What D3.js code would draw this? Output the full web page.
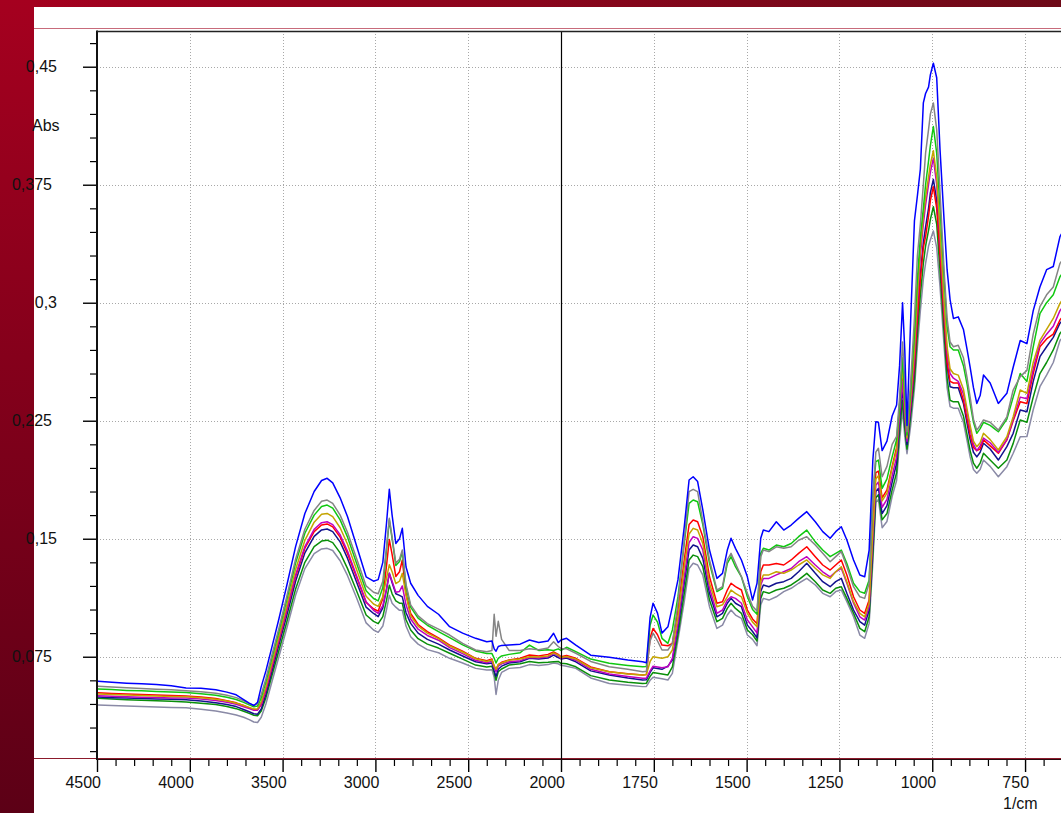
<!DOCTYPE html>
<html>
<head>
<meta charset="utf-8">
<script src="https://cdn.jsdelivr.net/npm/d3@7"></script>
<style>
  html, body { margin: 0; padding: 0; background: #fff; }
  svg { display: block; font-family: "Liberation Sans", Arial, Helvetica, sans-serif; }
</style>
</head>
<body>
<svg id="chart" width="1061" height="813"></svg>
<script>
// ---- Wavenumber grid (1/cm), shared by all spectra ----
const wavenumbers = [
  4500,4420,4340,4260,4180,4100,4020,3940,3860,3800,
  3750,3710,3680,3655,3635,3615,3590,3560,3520,3480,
  3430,3380,3330,3290,3260,3230,3190,3150,3100,3050,
  3010,2985,2960,2940,2925,2910,2890,2870,2855,2835,
  2810,2770,2720,2660,2600,2530,2460,2400,2372,2360,
  2350,2338,2320,2280,2220,2170,2120,2070,2040,2015,
  2000,
  1985,1960,1920,1870,1820,1780,1770,1760,1752,1740,
  1728,1712,1700,1685,1668,1655,1644,1632,1618,1600,
  1580,1565,1552,1542,1530,1514,1498,1484,1472,1462,
  1455,1440,1420,1400,1380,1360,1338,1315,1295,1275,
  1260,1245,1230,1212,1195,1182,1170,1160,1152,1145,
  1135,1122,1108,1096,1088,1080,1074,1068,1058,1048,
  1040,1032,1024,1018,1010,1005,997,988,979,968,
  960,952,943,930,916,906,898,889,880,871,
  862,844,822,799,782,763,745,728,710,692,
  674,656,640
];

// ---- Absorbance of each spectrum on that grid ----
const absBlue = [
  .0595,.0588,.0582,.0578,.0573,.0565,.0552,.0549,.0540,.0525,
  .0508,.0478,.0455,.0440,.0460,.0560,.0660,.0800,.0990,.1190,
  .1450,.1660,.1800,.1870,.1884,.1855,.1760,.1640,.1449,.1258,
  .1230,.1240,.1350,.1600,.1814,.1650,.1470,.1500,.1566,.1320,
  .1217,.1140,.1070,.1020,.0941,.0900,.0867,.0845,.0850,.0800,
  .0785,.0815,.0822,.0825,.0830,.0856,.0840,.0850,.0899,.0840,
  .0856,
  .0867,.0824,.0760,.0746,.0729,.0718,.0712,.1000,.1090,.1027,
  .0900,.0940,.1068,.1238,.1576,.1873,.1894,.1863,.1683,.1428,
  .1248,.1280,.1428,.1503,.1439,.1365,.1258,.1110,.1217,.1503,
  .1555,.1545,.1608,.1555,.1587,.1629,.1672,.1608,.1545,.1503,
  .1545,.1576,.1492,.1365,.1269,.1258,.1428,.2000,.2244,.2240,
  .2060,.2120,.2280,.2350,.2600,.3000,.2700,.2220,.2900,.3520,
  .3680,.3850,.4270,.4330,.4370,.4450,.4522,.4430,.3970,.3520,
  .3210,.3020,.2900,.2910,.2830,.2700,.2590,.2460,.2360,.2410,
  .2540,.2490,.2360,.2424,.2590,.2760,.2740,.2950,.3100,.3210,
  .3230,.3420,.3490
];
const absGray = [
  .0562,.0558,.0553,.0548,.0544,.0540,.0534,.0527,.0518,.0505,
  .0490,.0470,.0452,.0440,.0448,.0510,.0610,.0750,.0930,.1120,
  .1370,.1560,.1680,.1738,.1746,.1725,.1650,.1540,.1370,.1200,
  .1160,.1150,.1230,.1450,.1630,.1510,.1345,.1370,.1428,.1210,
  .1080,.1010,.0960,.0925,.0888,.0835,.0793,.0782,.0790,.1020,
  .0880,.0975,.0860,.0790,.0790,.0800,.0795,.0805,.0845,.0815,
  .0803,
  .0800,.0772,.0720,.0686,.0670,.0655,.0658,.0850,.0900,.0850,
  .0793,.0793,.0835,.1090,.1490,.1799,.1814,.1799,.1610,.1365,
  .1174,.1195,.1365,.1407,.1343,.1258,.1153,.1070,.1040,.1386,
  .1428,.1418,.1449,.1439,.1449,.1490,.1513,.1460,.1407,.1354,
  .1386,.1418,.1322,.1195,.1131,.1121,.1217,.1750,.2050,.2075,
  .1894,.1960,.2100,.2150,.2400,.2750,.2500,.2180,.2500,.2900,
  .3300,.3500,.3750,.3950,.4100,.4200,.4270,.4100,.3700,.3200,
  .2900,.2750,.2720,.2730,.2650,.2520,.2400,.2260,.2190,.2220,
  .2255,.2240,.2190,.2275,.2445,.2530,.2570,.2800,.2975,.3050,
  .3100,.3250,.3300
];
const absGreen = [
  .0545,.0541,.0536,.0533,.0529,.0526,.0523,.0515,.0505,.0492,
  .0478,.0460,.0445,.0432,.0436,.0490,.0590,.0730,.0910,.1100,
  .1345,.1535,.1650,.1705,.1714,.1695,.1620,.1510,.1340,.1170,
  .1120,.1105,.1190,.1430,.1620,.1500,.1330,.1355,.1415,.1195,
  .1065,.0995,.0950,.0910,.0871,.0825,.0787,.0770,.0770,.0740,
  .0710,.0740,.0755,.0765,.0775,.0824,.0790,.0795,.0790,.0800,
  .0790,
  .0810,.0782,.0735,.0708,.0695,.0686,.0688,.0950,.1015,.0970,
  .0867,.0835,.0920,.1130,.1470,.1725,.1746,.1735,.1590,.1343,
  .1164,.1185,.1343,.1386,.1322,.1258,.1131,.1050,.1020,.1407,
  .1439,.1428,.1460,.1449,.1470,.1513,.1555,.1480,.1428,.1386,
  .1407,.1428,.1343,.1217,.1164,.1153,.1238,.1780,.1990,.2000,
  .1820,.1880,.2020,.2130,.2350,.2650,.2420,.2160,.2450,.2800,
  .3150,.3420,.3600,.3750,.3900,.4000,.4120,.3950,.3600,.3150,
  .2850,.2720,.2700,.2700,.2600,.2480,.2360,.2240,.2170,.2200,
  .2240,.2220,.2180,.2260,.2400,.2550,.2500,.2720,.2930,.3000,
  .3050,.3165,.3220
];
const absGold = [
  .0513,.0510,.0507,.0504,.0501,.0498,.0496,.0490,.0480,.0468,
  .0455,.0440,.0428,.0418,.0420,.0465,.0560,.0700,.0880,.1065,
  .1305,.1490,.1605,.1655,.1661,.1640,.1570,.1465,.1300,.1135,
  .1085,.1070,.1130,.1250,.1335,.1290,.1215,.1230,.1280,.1140,
  .1010,.0945,.0900,.0865,.0818,.0780,.0737,.0720,.0730,.0690,
  .0670,.0700,.0710,.0728,.0735,.0750,.0748,.0755,.0775,.0760,
  .0745,
  .0752,.0735,.0680,.0655,.0640,.0634,.0637,.0720,.0750,.0745,
  .0740,.0750,.0793,.1004,.1322,.1530,.1566,.1555,.1470,.1217,
  .1068,.1080,.1131,.1174,.1153,.1131,.1026,.0970,.0940,.1227,
  .1270,.1270,.1290,.1280,.1301,.1333,.1365,.1312,.1270,.1248,
  .1290,.1322,.1227,.1100,.1026,.1004,.1090,.1550,.1880,.1900,
  .1740,.1790,.1950,.2060,.2350,.2600,.2350,.2140,.2400,.2700,
  .3050,.3350,.3550,.3670,.3800,.3880,.3966,.3800,.3450,.3000,
  .2720,.2580,.2550,.2540,.2450,.2320,.2220,.2120,.2085,.2110,
  .2170,.2130,.2064,.2148,.2275,.2445,.2424,.2620,.2760,.2830,
  .2900,.2996,.3050
];
const absMagenta = [
  .0503,.0499,.0496,.0493,.0491,.0488,.0487,.0482,.0472,.0460,
  .0448,.0432,.0420,.0410,.0410,.0450,.0545,.0680,.0860,.1040,
  .1270,.1450,.1560,.1602,.1608,.1590,.1525,.1420,.1260,.1100,
  .1045,.1025,.1075,.1180,.1280,.1230,.1160,.1165,.1200,.1080,
  .0990,.0925,.0885,.0855,.0808,.0770,.0727,.0712,.0722,.0680,
  .0655,.0690,.0705,.0718,.0725,.0745,.0742,.0750,.0770,.0755,
  .0740,
  .0748,.0728,.0670,.0640,.0625,.0613,.0614,.0660,.0690,.0685,
  .0680,.0686,.0740,.0960,.1258,.1476,.1513,.1502,.1428,.1185,
  .1026,.1047,.1110,.1131,.1121,.1090,.0983,.0940,.0900,.1206,
  .1248,.1248,.1270,.1290,.1311,.1354,.1386,.1333,.1290,.1258,
  .1290,.1312,.1217,.1090,.1004,.0983,.1068,.1500,.1840,.1860,
  .1700,.1750,.1900,.2020,.2290,.2500,.2280,.2120,.2350,.2650,
  .3000,.3300,.3500,.3620,.3750,.3830,.3918,.3750,.3400,.2960,
  .2680,.2550,.2520,.2500,.2420,.2300,.2200,.2100,.2060,.2090,
  .2140,.2110,.2050,.2130,.2260,.2400,.2390,.2580,.2740,.2800,
  .2850,.2950,.3000
];
const absRed = [
  .0521,.0517,.0513,.0510,.0507,.0504,.0501,.0494,.0484,.0470,
  .0457,.0440,.0425,.0414,.0412,.0445,.0535,.0670,.0850,.1030,
  .1260,.1440,.1545,.1587,.1594,.1575,.1510,.1405,.1250,.1095,
  .1055,.1040,.1120,.1330,.1495,.1400,.1260,.1290,.1365,.1150,
  .1025,.0955,.0910,.0870,.0824,.0785,.0740,.0725,.0735,.0690,
  .0665,.0700,.0715,.0730,.0740,.0761,.0755,.0765,.0780,.0765,
  .0750,
  .0758,.0740,.0685,.0655,.0642,.0634,.0637,.0870,.0930,.0890,
  .0824,.0820,.0835,.1047,.1365,.1590,.1619,.1608,.1513,.1258,
  .1090,.1100,.1174,.1217,.1195,.1174,.1047,.0990,.0960,.1290,
  .1333,.1333,.1343,.1333,.1365,.1407,.1449,.1386,.1333,.1301,
  .1333,.1365,.1269,.1131,.1047,.1026,.1110,.1600,.1920,.1930,
  .1760,.1810,.1960,.2080,.2320,.2550,.2300,.2140,.2350,.2600,
  .2900,.3150,.3350,.3420,.3550,.3650,.3737,.3600,.3300,.2900,
  .2620,.2500,.2490,.2490,.2380,.2260,.2160,.2080,.2060,.2070,
  .2128,.2090,.2043,.2128,.2250,.2370,.2360,.2550,.2720,.2770,
  .2800,.2890,.2940
];
const absNavy = [
  .0494,.0490,.0487,.0484,.0481,.0479,.0476,.0468,.0458,.0446,
  .0433,.0415,.0400,.0388,.0385,.0418,.0510,.0645,.0825,.1000,
  .1230,.1410,.1515,.1556,.1562,.1545,.1480,.1375,.1220,.1065,
  .1025,.1005,.1060,.1180,.1280,.1220,.1150,.1140,.1130,.1030,
  .0962,.0900,.0860,.0830,.0793,.0755,.0718,.0705,.0710,.0660,
  .0625,.0670,.0690,.0710,.0718,.0740,.0735,.0742,.0760,.0745,
  .0736,
  .0742,.0718,.0660,.0634,.0615,.0602,.0603,.0650,.0680,.0675,
  .0670,.0690,.0729,.0930,.1217,.1428,.1460,.1449,.1375,.1153,
  .1004,.1026,.1090,.1121,.1090,.1068,.0951,.0910,.0870,.1164,
  .1206,.1195,.1217,.1227,.1248,.1290,.1344,.1280,.1227,.1195,
  .1227,.1248,.1153,.1047,.0973,.0951,.1047,.1450,.1800,.1820,
  .1660,.1710,.1860,.1980,.2250,.2460,.2250,.2100,.2320,.2580,
  .2900,.3180,.3380,.3480,.3600,.3700,.3784,.3650,.3300,.2880,
  .2600,.2466,.2460,.2460,.2360,.2230,.2130,.2050,.2020,.2050,
  .2107,.2070,.2000,.2085,.2170,.2318,.2307,.2500,.2657,.2720,
  .2780,.2870,.2910
];
const absDarkGreen = [
  .0486,.0481,.0477,.0474,.0470,.0467,.0463,.0455,.0446,.0434,
  .0420,.0403,.0390,.0378,.0375,.0405,.0490,.0620,.0790,.0960,
  .1180,.1350,.1450,.1485,.1491,.1475,.1410,.1310,.1165,.1015,
  .0975,.0960,.1005,.1110,.1205,.1150,.1105,.1090,.1090,.0985,
  .0920,.0865,.0830,.0805,.0772,.0735,.0697,.0685,.0690,.0650,
  .0600,.0655,.0672,.0697,.0705,.0720,.0712,.0715,.0718,.0720,
  .0708,
  .0705,.0686,.0630,.0602,.0588,.0580,.0582,.0625,.0650,.0645,
  .0640,.0634,.0686,.0888,.1153,.1365,.1396,.1386,.1322,.1110,
  .0973,.0994,.1057,.1090,.1057,.1026,.0920,.0890,.0850,.1121,
  .1164,.1153,.1174,.1185,.1206,.1238,.1280,.1227,.1174,.1153,
  .1185,.1195,.1121,.1026,.0930,.0909,.1004,.1400,.1760,.1780,
  .1620,.1660,.1810,.1920,.2180,.2380,.2200,.2070,.2280,.2500,
  .2800,.3050,.3250,.3360,.3460,.3530,.3610,.3500,.3200,.2800,
  .2520,.2380,.2370,.2370,.2280,.2160,.2060,.1980,.1948,.1980,
  .2043,.2000,.1948,.2000,.2106,.2255,.2240,.2400,.2550,.2620,
  .2700,.2805,.2850
];
const absSlate = [
  .0443,.0440,.0437,.0434,.0431,.0428,.0425,.0416,.0405,.0392,
  .0380,.0365,.0350,.0335,.0332,.0365,.0450,.0580,.0750,.0920,
  .1140,.1310,.1405,.1435,.1439,.1425,.1360,.1265,.1120,.0965,
  .0920,.0905,.0945,.1050,.1140,.1090,.1065,.1045,.1045,.0945,
  .0877,.0830,.0795,.0775,.0740,.0710,.0676,.0665,.0668,.0620,
  .0510,.0600,.0650,.0676,.0682,.0700,.0695,.0700,.0710,.0705,
  .0696,
  .0690,.0676,.0615,.0580,.0568,.0560,.0561,.0600,.0620,.0615,
  .0610,.0602,.0644,.0856,.1100,.1311,.1344,.1333,.1269,.1068,
  .0930,.0951,.1015,.1047,.1015,.0994,.0888,.0860,.0820,.1079,
  .1121,.1110,.1131,.1164,.1185,.1217,.1248,.1206,.1153,.1131,
  .1164,.1174,.1100,.1004,.0888,.0867,.0962,.1350,.1730,.1750,
  .1570,.1610,.1770,.1870,.2120,.2320,.2150,.2040,.2220,.2450,
  .2720,.2950,.3150,.3250,.3360,.3400,.3456,.3350,.3100,.2720,
  .2460,.2340,.2330,.2330,.2240,.2120,.2020,.1940,.1916,.1940,
  .2000,.1960,.1894,.1958,.2043,.2148,.2150,.2320,.2466,.2540,
  .2620,.2760,.2800
];

// ---- Axis ticks ----
const xMajorTicks = [4500, 4000, 3500, 3000, 2500, 2000, 1750, 1500, 1250, 1000, 750];
const yMajorTicks = [0.075, 0.15, 0.225, 0.3, 0.375, 0.45];
const yAxisTitle = "Abs";
const xAxisTitle = "1/cm";

// spectra, drawn back to front
const spectra = [
  { values: absSlate,     color: "#8a8aa6" },
  { values: absDarkGreen, color: "#0a8f0a" },
  { values: absNavy,      color: "#12128e" },
  { values: absRed,       color: "#ff0000" },
  { values: absMagenta,   color: "#c000c0" },
  { values: absGold,      color: "#c4a400" },
  { values: absGreen,     color: "#10c810" },
  { values: absGray,      color: "#858585" },
  { values: absBlue,      color: "#0000ff" }
];

// ---- Layout ----
const W = 1061, H = 813;
const plotLeft = 97, plotTop = 31, plotBottom = 759, plotRight = 1155;
const svg = d3.select("#chart");
const defs = svg.append("defs");

// Split wavenumber axis: 4500-2000 compressed, 2000 and below expanded 2x
const x = d3.scaleLinear().domain([4500, 2000, 400]).range([plotLeft, 561, plotRight]);
const y = d3.scaleLinear().domain([0.01, 0.4727]).range([plotBottom, plotTop]);

// ---- Window frame (red bands) ----
const gv = defs.append("linearGradient").attr("id", "bandV")
  .attr("x1", 0).attr("y1", 0).attr("x2", 0).attr("y2", 1);
gv.append("stop").attr("offset", "0%").attr("stop-color", "#a5001f");
gv.append("stop").attr("offset", "100%").attr("stop-color", "#5c0016");
const gh = defs.append("linearGradient").attr("id", "bandH")
  .attr("x1", 0).attr("y1", 0).attr("x2", 1).attr("y2", 0);
gh.append("stop").attr("offset", "0%").attr("stop-color", "#a5001f");
gh.append("stop").attr("offset", "100%").attr("stop-color", "#6e0a18");

svg.append("rect").attr("x", 0).attr("y", 0).attr("width", W).attr("height", 7).attr("fill", "url(#bandH)");
svg.append("rect").attr("x", 0).attr("y", 0).attr("width", 34).attr("height", H).attr("fill", "url(#bandV)");

// thin frame lines of the graph pane
svg.append("line").attr("x1", 34).attr("x2", W).attr("y1", 28.5).attr("y2", 28.5)
  .attr("stroke", "#c86b7b").attr("stroke-width", 1);
svg.append("line").attr("x1", 34).attr("x2", W).attr("y1", 758.5).attr("y2", 758.5)
  .attr("stroke", "#8c1a2c").attr("stroke-width", 1);

// ---- Grid ----
const grid = svg.append("g").attr("stroke", "#a8a8a8").attr("stroke-width", 1)
  .attr("stroke-dasharray", "1,2");
grid.selectAll("line.vx")
  .data(xMajorTicks.filter(d => d !== 4500 && d !== 2000))
  .join("line").attr("class", "vx")
  .attr("x1", d => Math.round(x(d)) + 0.5).attr("x2", d => Math.round(x(d)) + 0.5)
  .attr("y1", plotTop).attr("y2", plotBottom);
grid.selectAll("line.hy")
  .data(yMajorTicks)
  .join("line").attr("class", "hy")
  .attr("x1", plotLeft).attr("x2", plotRight)
  .attr("y1", d => Math.round(y(d)) + 0.5).attr("y2", d => Math.round(y(d)) + 0.5);

// ---- Spectra ----
defs.append("clipPath").attr("id", "plotClip")
  .append("rect").attr("x", plotLeft + 1).attr("y", plotTop)
  .attr("width", plotRight - plotLeft).attr("height", plotBottom - plotTop);

const line = d3.line().x(d => x(d[0])).y(d => y(d[1]));
svg.append("g").attr("clip-path", "url(#plotClip)")
  .selectAll("path")
  .data(spectra)
  .join("path")
  .attr("d", s => {
    const n = Math.min(wavenumbers.length, s.values.length);
    return line(d3.range(n).map(i => [wavenumbers[i], s.values[i]]));
  })
  .attr("fill", "none")
  .attr("stroke", s => s.color)
  .attr("stroke-width", 1.5)
  .attr("stroke-linejoin", "round");

// axis break at 2000 1/cm
svg.append("line").attr("x1", Math.round(x(2000)) + 0.5).attr("x2", Math.round(x(2000)) + 0.5)
  .attr("y1", plotTop).attr("y2", plotBottom)
  .attr("stroke", "#000").attr("stroke-width", 1.2);

// ---- Axes ----
const decimalComma = d3.formatLocale({ decimal: ",", thousands: ".", grouping: [3], currency: ["", ""] });
const yFmt = decimalComma.format(".3~f");

// x minor ticks
const xMinor = d3.range(4500, 2000, -100).concat(d3.range(2000, 600, -50))
  .filter(d => !xMajorTicks.includes(d));
svg.append("g").attr("transform", `translate(0,${plotBottom})`)
  .call(d3.axisBottom(x).tickValues(xMinor).tickSize(7).tickFormat(""))
  .call(g => g.select(".domain").remove())
  .call(g => g.selectAll("line").attr("stroke", "#000").attr("stroke-width", 1.2));

// x major ticks + labels
svg.append("g").attr("transform", `translate(0,${plotBottom})`)
  .call(d3.axisBottom(x).tickValues(xMajorTicks).tickSize(13).tickFormat(d3.format("d")))
  .call(g => g.select(".domain").remove())
  .call(g => g.selectAll("line").attr("stroke", "#000").attr("stroke-width", 1.4))
  .call(g => g.selectAll("text")
    .attr("fill", "#111").attr("font-size", 16)
    .attr("font-family", "'Liberation Sans', Arial, Helvetica, sans-serif")
    .attr("text-anchor", "end").attr("x", 3.5).attr("y", 29).attr("dy", null));

// y minor ticks
const yMinor = d3.range(1, 32).map(k => k * 0.015)
  .filter(v => v > 0.01 && v < 0.4727 && !yMajorTicks.some(t => Math.abs(t - v) < 1e-6));
svg.append("g").attr("transform", `translate(${plotLeft},0)`)
  .call(d3.axisLeft(y).tickValues(yMinor).tickSize(7).tickFormat(""))
  .call(g => g.select(".domain").remove())
  .call(g => g.selectAll("line").attr("stroke", "#000").attr("stroke-width", 1.2));

// y major ticks + labels
svg.append("g").attr("transform", `translate(${plotLeft},0)`)
  .call(d3.axisLeft(y).tickValues(yMajorTicks).tickSize(14).tickFormat(yFmt))
  .call(g => g.select(".domain").remove())
  .call(g => g.selectAll("line").attr("stroke", "#000").attr("stroke-width", 1.4))
  .call(g => g.selectAll("text")
    .attr("fill", "#111").attr("font-size", 16)
    .attr("font-family", "'Liberation Sans', Arial, Helvetica, sans-serif")
    .attr("text-anchor", "end")
    .attr("x", d => yFmt(d).length > 4 ? -45 : -40));

// plot frame: left and top edges, bottom axis line
svg.append("line").attr("x1", plotLeft).attr("x2", plotLeft).attr("y1", plotTop - 0.5).attr("y2", plotBottom + 1)
  .attr("stroke", "#111").attr("stroke-width", 2);
svg.append("line").attr("x1", plotLeft).attr("x2", W).attr("y1", plotTop + 0.5).attr("y2", plotTop + 0.5)
  .attr("stroke", "#222").attr("stroke-width", 1.4);
svg.append("line").attr("x1", plotLeft).attr("x2", W).attr("y1", plotBottom + 0.5).attr("y2", plotBottom + 0.5)
  .attr("stroke", "#2a0a0e").attr("stroke-width", 1.2);

// axis titles
svg.append("text").attr("x", 32).attr("y", 130.5)
  .attr("font-size", 16).attr("fill", "#111").text(yAxisTitle);
svg.append("text").attr("x", 1003).attr("y", 809)
  .attr("font-size", 16).attr("fill", "#111").text(xAxisTitle);
</script>
</body>
</html>
